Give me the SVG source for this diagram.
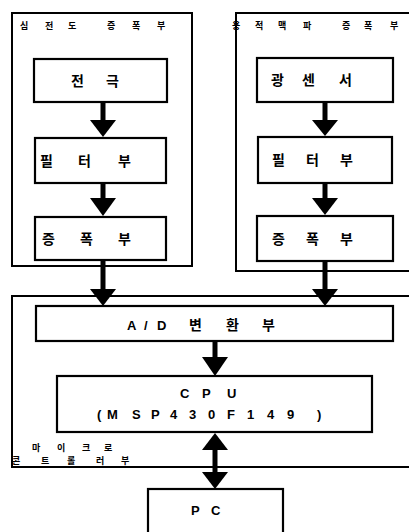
<svg xmlns="http://www.w3.org/2000/svg" width="409" height="532" viewBox="0 0 409 532">
  <defs>
    <style>
      .frame { fill: none; stroke: #000; stroke-width: 2; }
      .box { fill: #fff; stroke: #000; stroke-width: 2.2; }
      .ko { font-family: "Noto Sans CJK KR", "Noto Sans", sans-serif; font-weight: bold; fill: #000; }
      .lat { font-family: "Liberation Sans", Arial, sans-serif; font-weight: bold; fill: #000; }
      .lbl { font-size: 14px; }
      .small { font-size: 9px; }
      .shaft { stroke: #000; stroke-width: 5; fill: none; }
      .head { fill: #000; }
    </style>
  </defs>

  <rect width="409" height="532" fill="#fff"/>

  <!-- outer section frames -->
  <g id="ecg-amp-section">
    <rect class="frame" x="12" y="13" width="180" height="253"/>
    <text class="ko small" x="20 45 68 107 132 157" y="29">심전도증폭부</text>
  </g>
  <g id="ppg-amp-section">
    <path class="frame" d="M 412 13 H 236 V 271 H 412"/>
    <text class="ko small" x="232 255 278 303 342 364 390" y="29">용적맥파증폭부</text>
  </g>
  <g id="mcu-section">
    <path class="frame" d="M 412 296 H 12 V 467 H 412"/>
    <text class="ko small" x="32 57 82 104" y="451">마이크로</text>
    <text class="ko small" x="12 41 67 96 121" y="464">콘트롤러부</text>
  </g>

  <!-- ECG chain -->
  <g id="electrode">
    <rect class="box" x="34" y="59" width="133" height="43"/>
    <text class="ko lbl" x="71 106" y="86">전극</text>
  </g>
  <g id="ecg-filter">
    <rect class="box" x="35" y="138" width="131" height="45"/>
    <text class="ko lbl" x="40 78 118" y="166">필터부</text>
  </g>
  <g id="ecg-amp">
    <rect class="box" x="35" y="217" width="131" height="43"/>
    <text class="ko lbl" x="42 80 118" y="244">증폭부</text>
  </g>

  <!-- PPG chain -->
  <g id="light-sensor">
    <rect class="box" x="257" y="58" width="136" height="44"/>
    <text class="ko lbl" x="271 302 339" y="85">광센서</text>
  </g>
  <g id="ppg-filter">
    <rect class="box" x="258" y="137" width="134" height="46"/>
    <text class="ko lbl" x="272 306 340" y="165">필터부</text>
  </g>
  <g id="ppg-amp">
    <rect class="box" x="257" y="216" width="136" height="45"/>
    <text class="ko lbl" x="272 306 340" y="244">증폭부</text>
  </g>

  <!-- microcontroller blocks -->
  <g id="adc">
    <rect class="box" x="36" y="306" width="357" height="35"/>
    <text class="lat" x="127 144 157" y="330" font-size="13">A/D</text>
    <text class="ko" x="189 226 262" y="330" font-size="14">변환부</text>
  </g>
  <g id="cpu">
    <rect class="box" x="57" y="376" width="315" height="56"/>
    <text class="lat" x="180 202 227" y="398" font-size="13">CPU</text>
    <text class="lat" x="97 107 132 151 170 189 208 227 247 267 287 317" y="419" font-size="13">(MSP430F149)</text>
  </g>
  <g id="pc">
    <rect class="box" x="148" y="489" width="135" height="60"/>
    <text class="lat" x="191 211" y="515" font-size="13">PC</text>
  </g>

  <!-- connectors -->
  <g id="connectors">
    <line class="shaft" x1="103" y1="102" x2="103" y2="121"/>
    <polygon class="head" points="90,120 116,120 103,137"/>
    <line class="shaft" x1="103" y1="183" x2="103" y2="199"/>
    <polygon class="head" points="90,198 116,198 103,216"/>
    <line class="shaft" x1="103" y1="260" x2="103" y2="290"/>
    <polygon class="head" points="90,289 116,289 103,306"/>

    <line class="shaft" x1="325" y1="102" x2="325" y2="121"/>
    <polygon class="head" points="312,120 338,120 325,136"/>
    <line class="shaft" x1="325" y1="183" x2="325" y2="199"/>
    <polygon class="head" points="312,198 338,198 325,215"/>
    <line class="shaft" x1="325" y1="261" x2="325" y2="290"/>
    <polygon class="head" points="312,289 338,289 325,306"/>

    <line class="shaft" x1="215" y1="341" x2="215" y2="358"/>
    <polygon class="head" points="202,357 228,357 215,376"/>

    <line class="shaft" x1="215" y1="449" x2="215" y2="473"/>
    <polygon class="head" points="202,450 228,450 215,433"/>
    <polygon class="head" points="202,472 228,472 215,489"/>
  </g>
</svg>
